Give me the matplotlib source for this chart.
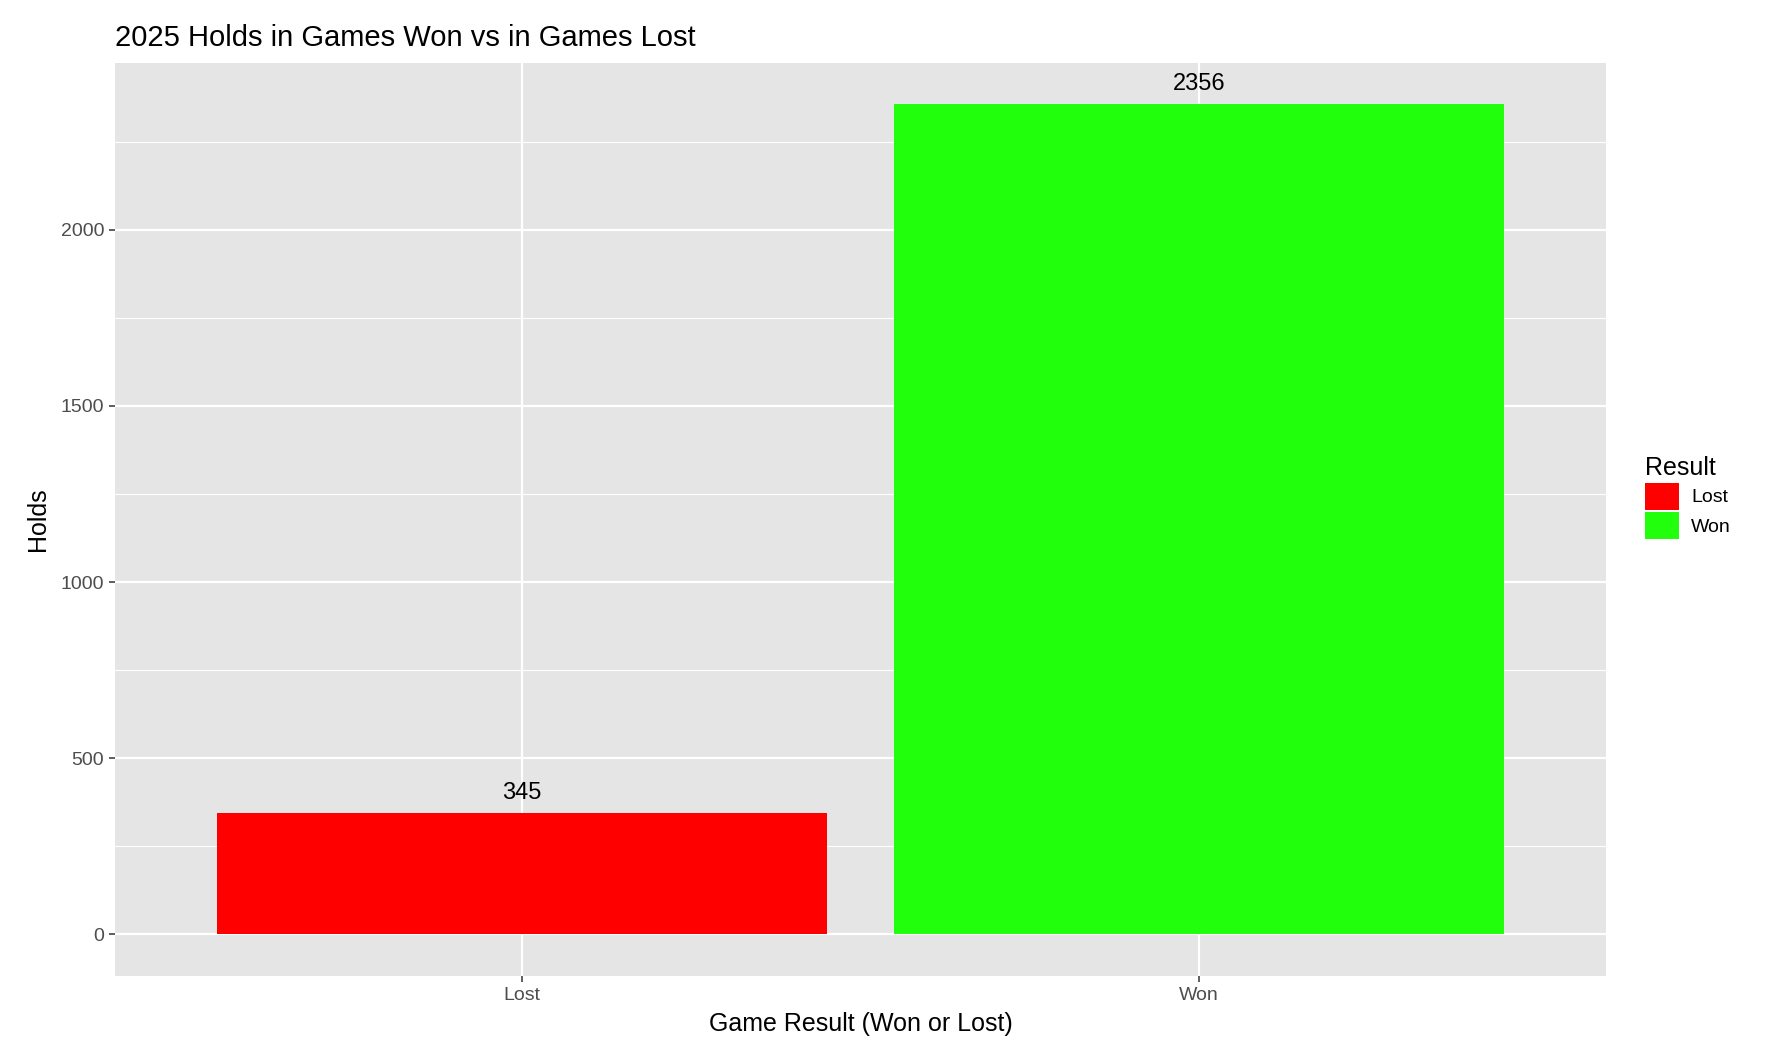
import matplotlib
matplotlib.use("Agg")
import matplotlib.pyplot as plt
from matplotlib.patches import Patch

categories = ["Lost", "Won"]
holds = [345, 2356]
colors = ["#FF0000", "#22FF0C"]

plt.rcParams['font.family'] = ['Liberation Sans', 'DejaVu Sans']
fig = plt.figure(figsize=(17.76, 10.54), dpi=100)
ax = fig.add_axes([0.0649, 0.074, 0.904 - 0.0649, 0.9405 - 0.074])
ax.set_facecolor("#E5E5E5")
x = list(range(1, len(categories) + 1))
ax.bar(x, holds, width=0.9, color=colors, zorder=3)
for xi, v in zip(x, holds):
    ax.text(xi, v + 25, str(v), ha="center", va="bottom", fontsize=17, color="black", zorder=4)
ax.set_xlim(0.4, 2.6)
ax.set_ylim(-117.8, 2473.8)
ax.set_xticks(x)
ax.set_xticklabels(categories)
ax.set_yticks([0, 500, 1000, 1500, 2000])
ax.set_yticks([250, 750, 1250, 1750, 2250], minor=True)
ax.grid(which="major", color="white", linewidth=1.6, zorder=1)
ax.grid(which="minor", axis="y", color="white", linewidth=0.8, zorder=1)
ax.tick_params(which="minor", length=0)
ax.tick_params(which="major", length=4, width=1.1, color="#333333", labelsize=14, labelcolor="#4D4D4D", pad=4)
for s in ax.spines.values():
    s.set_visible(False)
ax.set_xlabel("Game Result (Won or Lost)", fontsize=18, labelpad=6)
ax.set_ylabel("Holds", fontsize=18, labelpad=8)
ax.set_title("2025 Holds in Games Won vs in Games Lost", fontsize=21, loc="left", x=0.0, pad=12)

handles = [Patch(facecolor=c, edgecolor="none") for c in colors]
leg = fig.legend(handles, categories, title="Result", loc="upper left",
                 bbox_to_anchor=(0.922, 0.575), frameon=False, fontsize=14,
                 title_fontsize=18, handlelength=1.75, handleheight=1.75,
                 labelspacing=0.15, handletextpad=0.6, borderaxespad=0)
leg._legend_box.align = "left"
fig.savefig("out.png", dpi=100)
